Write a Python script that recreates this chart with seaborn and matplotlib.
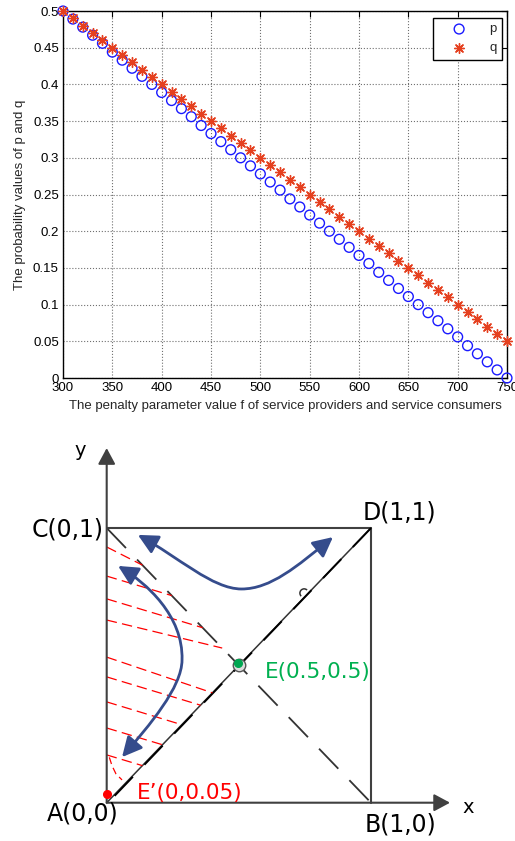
import numpy as np
import pandas as pd
import matplotlib
matplotlib.use("Agg")
import matplotlib.pyplot as plt
import seaborn as sns
from matplotlib.path import Path
from matplotlib.patches import FancyArrowPatch, Arc

# ---------------- top chart data ----------------
f_values = [300, 310, 320, 330, 340, 350, 360, 370, 380, 390,
            400, 410, 420, 430, 440, 450, 460, 470, 480, 490,
            500, 510, 520, 530, 540, 550, 560, 570, 580, 590,
            600, 610, 620, 630, 640, 650, 660, 670, 680, 690,
            700, 710, 720, 730, 740, 750]
p_values = [0.500, 0.489, 0.478, 0.467, 0.456, 0.444, 0.433, 0.422, 0.411, 0.400,
            0.389, 0.378, 0.367, 0.356, 0.344, 0.333, 0.322, 0.311, 0.300, 0.289,
            0.278, 0.267, 0.256, 0.244, 0.233, 0.222, 0.211, 0.200, 0.189, 0.178,
            0.167, 0.156, 0.144, 0.133, 0.122, 0.111, 0.100, 0.089, 0.078, 0.067,
            0.056, 0.044, 0.033, 0.022, 0.011, 0.000]
q_values = [0.50, 0.49, 0.48, 0.47, 0.46, 0.45, 0.44, 0.43, 0.42, 0.41,
            0.40, 0.39, 0.38, 0.37, 0.36, 0.35, 0.34, 0.33, 0.32, 0.31,
            0.30, 0.29, 0.28, 0.27, 0.26, 0.25, 0.24, 0.23, 0.22, 0.21,
            0.20, 0.19, 0.18, 0.17, 0.16, 0.15, 0.14, 0.13, 0.12, 0.11,
            0.10, 0.09, 0.08, 0.07, 0.06, 0.05]
x_ticks = [300, 350, 400, 450, 500, 550, 600, 650, 700, 750]
y_ticks = [0, 0.05, 0.1, 0.15, 0.2, 0.25, 0.3, 0.35, 0.4, 0.45, 0.5]
y_tick_labels = ["0", "0.05", "0.1", "0.15", "0.2", "0.25", "0.3", "0.35", "0.4", "0.45", "0.5"]
x_label = "The penalty parameter value f of service providers and service consumers"
y_label = "The probability values of p and q"

# ---------------- diagram data ----------------
corner_A = (0, 0)
corner_B = (1, 0)
corner_C = (0, 1)
corner_D = (1, 1)
axis_y_tip = (0, 1.291)
axis_x_tip = (1.299, 0)
point_E = (0.497, 0.507)
point_E_ring = (0.502, 0.501)
point_E_prime = (0, 0.03)
small_arc_pos = (0.747, 0.763)
# red hatch lines: start on y-axis, end on the boundary
hatch_y0 = [0.931, 0.825, 0.742, 0.665, 0.530, 0.458, 0.367, 0.272, 0.174]
hatch_x1 = [0.135, 0.246, 0.363, 0.437, 0.400, 0.355, 0.284, 0.211, 0.135]
hatch_y1 = [0.865, 0.754, 0.637, 0.563, 0.400, 0.355, 0.284, 0.211, 0.135]
red_arc_x = [0.010, 0.020, 0.035, 0.058]
red_arc_y = [0.165, 0.135, 0.105, 0.083]
# blue trajectories (bezier control points)
upper_curve_x = [0.118, 0.27, 0.40, 0.51, 0.62, 0.72, 0.856]
upper_curve_y = [0.975, 0.895, 0.778, 0.778, 0.778, 0.86, 0.967]
left_curve_x = [0.043, 0.15, 0.29, 0.285, 0.285, 0.16, 0.058]
left_curve_y = [0.862, 0.80, 0.68, 0.52, 0.42, 0.28, 0.166]

sns.set_style("white")
plt.rcParams["font.family"] = ["Liberation Sans", "DejaVu Sans"]

W, H = 515, 841
fig = plt.figure(figsize=(W / 100, H / 100), dpi=100)

# ================= top chart =================
ax = fig.add_axes([63 / W, 1 - 378 / H, (507 - 63) / W, (378 - 11) / H])
df = pd.DataFrame({"f": f_values, "p": p_values, "q": q_values})
sns.scatterplot(data=df, x="f", y="p", ax=ax, marker="o", s=50,
                facecolor="none", edgecolor="#1a1aff", linewidth=1.0,
                label="p", zorder=3, clip_on=False)
sns.scatterplot(data=df, x="f", y="q", ax=ax, marker=(8, 2, 0), s=50,
                color="#e5401f", linewidth=1.0, label="q", zorder=3,
                clip_on=False)
ax.set_xlim(300, 750)
ax.set_ylim(0, 0.5)
ax.set_xticks(x_ticks)
ax.set_xticklabels([str(t) for t in x_ticks])
ax.set_yticks(y_ticks)
ax.set_yticklabels(y_tick_labels)
ax.tick_params(direction="in", length=4, width=0.8, labelsize=9.5,
               top=True, right=True, pad=3, colors="black")
ax.grid(True, color="#707070", linestyle=":", linewidth=0.8)
for sp in ax.spines.values():
    sp.set_color("black")
    sp.set_linewidth(1.0)
ax.set_xlabel(x_label, fontsize=9.5, labelpad=4)
ax.set_ylabel(y_label, fontsize=9.5, labelpad=5)
leg = ax.legend(loc="upper right", bbox_to_anchor=(0.989, 0.981),
                borderaxespad=0, fontsize=9.5, fancybox=False,
                edgecolor="black", framealpha=1, handlelength=3.2,
                handletextpad=0.7, borderpad=0.4, labelspacing=0.5)
leg.get_frame().set_linewidth(1.0)

# ================= diagram =================
ax2 = fig.add_axes([0, 0, 1, (H - 430) / H])
ax2.set_xlim(-0.4037, 1.5448)
ax2.set_ylim(-0.1394, 1.3568)
ax2.axis("off")

gray = "#404040"
# square top and right
ax2.plot([corner_C[0], corner_D[0]], [corner_C[1], corner_D[1]], color=gray, lw=1.5)
ax2.plot([corner_D[0], corner_B[0]], [corner_D[1], corner_B[1]], color=gray, lw=1.5)
# axes with arrows
for tip in (axis_y_tip, axis_x_tip):
    ax2.annotate("", xy=tip, xytext=corner_A,
                 arrowprops=dict(arrowstyle="-|>,head_length=0.65,head_width=0.35",
                                 color=gray, lw=1.5, mutation_scale=15,
                                 shrinkA=0, shrinkB=0))
# diagonal A-D
ax2.plot([corner_A[0], corner_D[0]], [corner_A[1], corner_D[1]], color="#333333", lw=1.1)
ax2.plot([corner_A[0] + 0.03, corner_D[0]], [corner_A[1] + 0.025, corner_D[1]],
         color="black", lw=1.4, linestyle=(0, (19 / 1.4, 12 / 1.4)))
# anti-diagonal C-B
ax2.plot([corner_C[0], corner_B[0]], [corner_C[1], corner_B[1]], color="#333333",
         lw=1.3, linestyle=(0, (20 / 1.3, 11.5 / 1.3)))

# red hatch lines
for y0, x1, y1 in zip(hatch_y0, hatch_x1, hatch_y1):
    ax2.plot([0, x1], [y0, y1], color="#ff0000", lw=0.9,
             linestyle=(0, (7.5 / 0.9, 3.8 / 0.9)))
ax2.plot(red_arc_x, red_arc_y, color="#ff0000", lw=0.9,
         linestyle=(0, (5 / 0.9, 3 / 0.9)))

# small semicircle on diagonal
ax2.add_patch(Arc(small_arc_pos, 0.032, 0.031, theta1=45, theta2=225,
                  color="#333333", lw=1.1))

# E ring and point
ax2.plot([point_E_ring[0]], [point_E_ring[1]], marker="o", markersize=9,
         markerfacecolor="#dcdcdc", markeredgecolor="#555555", markeredgewidth=1.0,
         zorder=4)
ax2.plot([point_E[0]], [point_E[1]], marker="o", markersize=5.5,
         color="#00a651", zorder=5)
ax2.plot([point_E_prime[0]], [point_E_prime[1]], marker="o", markersize=5.5,
         color="#ff0000", zorder=5)

# blue trajectories
blue = "#354c8c"
codes = [Path.MOVETO, Path.CURVE4, Path.CURVE4, Path.CURVE4,
         Path.CURVE4, Path.CURVE4, Path.CURVE4]
for cx, cy in ((upper_curve_x, upper_curve_y), (left_curve_x, left_curve_y)):
    path = Path(list(zip(cx, cy)), codes)
    arrow = FancyArrowPatch(path=path,
                            arrowstyle="<|-|>,head_length=0.6,head_width=0.3",
                            mutation_scale=20, color=blue, lw=2.0, zorder=6)
    ax2.add_patch(arrow)

# labels
fam = ["DejaVu Sans"]
ax2.text(-0.01, 0.996, "C(0,1)", fontsize=17, ha="right", va="center", family=fam, color="black")
ax2.text(0.97, 1.056, "D(1,1)", fontsize=17, ha="left", va="center", family=fam, color="black")
ax2.text(-0.092, -0.041, "A(0,0)", fontsize=17, ha="center", va="center", family=fam, color="black")
ax2.text(1.112, -0.081, "B(1,0)", fontsize=17, ha="center", va="center", family=fam, color="black")
ax2.text(0.599, 0.477, "E(0.5,0.5)", fontsize=15.5, ha="left", va="center", family=fam, color="#00b050")
ax2.text(0.115, 0.035, "E\u2019(0,0.05)", fontsize=15.5, ha="left", va="center", family=fam, color="#ff0000")
ax2.text(-0.101, 1.283, "y", fontsize=14, ha="center", va="center", family=fam, color="black")
ax2.text(1.367, -0.019, "x", fontsize=14, ha="center", va="center", family=fam, color="black")

fig.savefig("out.png", dpi=100)
